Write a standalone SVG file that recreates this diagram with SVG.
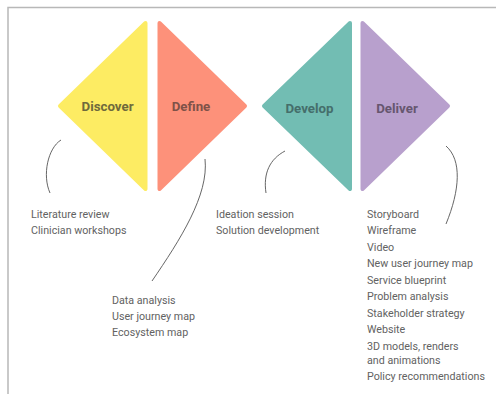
<svg xmlns="http://www.w3.org/2000/svg" width="496" height="394" viewBox="0 0 496 394">
<style>
.t{font-family:Roboto,"Liberation Sans",sans-serif;font-size:10.7px;fill:#626262}
.h{font-family:Roboto,"Liberation Sans",sans-serif;font-size:13.3px;font-weight:700;text-anchor:middle}
.c{fill:none;stroke:#555;stroke-width:.9}
.s{stroke-linejoin:round;stroke-width:4}
</style>
<rect width="496" height="394" fill="#fff"/>
<path d="M8 394V7.500H496" fill="none" stroke="#b8b8b8" stroke-width="1.500"/>
<g id="discover"><path class="s" d="M145.500 23L60 106L145.500 189Z" fill="#fdec63" stroke="#fdec63"/><text class="h" x="107.500" y="111" fill="#6f6a3c">Discover</text></g>
<g id="define"><path class="s" d="M159.500 23L245 106L159.500 189Z" fill="#fd917a" stroke="#fd917a"/><text class="h" x="191" y="111" fill="#7f5248">Define</text></g>
<g id="develop"><path class="s" d="M350 23L264 106L350 189Z" fill="#72bdb3" stroke="#72bdb3"/><text class="h" x="309.500" y="113" fill="#456e6b">Develop</text></g>
<g id="deliver"><path class="s" d="M362.500 23L448 106L362.500 189Z" fill="#b8a0cd" stroke="#b8a0cd"/><text class="h" x="397" y="112.500" fill="#66566f">Deliver</text></g>
<g id="connectors">
<path class="c" d="M61 140C48 148 42 175 50 193"/>
<path class="c" d="M205 159C209 195 180 240 152 281"/>
<path class="c" d="M285 151C270 159 263 173 266 193"/>
<path class="c" d="M446 146C462 160 460 190 446 224"/>
</g>
<g id="discover-list"><text class="t" x="31" y="218">Literature review</text><text class="t" x="31" y="234">Clinician workshops</text></g>
<g id="define-list"><text class="t" x="112" y="304">Data analysis</text><text class="t" x="112" y="320">User journey map</text><text class="t" x="112" y="336">Ecosystem map</text></g>
<g id="develop-list"><text class="t" x="216" y="218">Ideation session</text><text class="t" x="216" y="234">Solution development</text></g>
<g id="deliver-list">
<text class="t" x="367" y="218">Storyboard</text>
<text class="t" x="367" y="234">Wireframe</text>
<text class="t" x="367" y="251">Video</text>
<text class="t" x="367" y="267">New user journey map</text>
<text class="t" x="367" y="284">Service blueprint</text>
<text class="t" x="367" y="300">Problem analysis</text>
<text class="t" x="367" y="317">Stakeholder strategy</text>
<text class="t" x="367" y="333">Website</text>
<text class="t" x="367" y="350">3D models, renders</text>
<text class="t" x="367" y="364">and animations</text>
<text class="t" x="367" y="380">Policy recommendations</text>
</g>
</svg>
